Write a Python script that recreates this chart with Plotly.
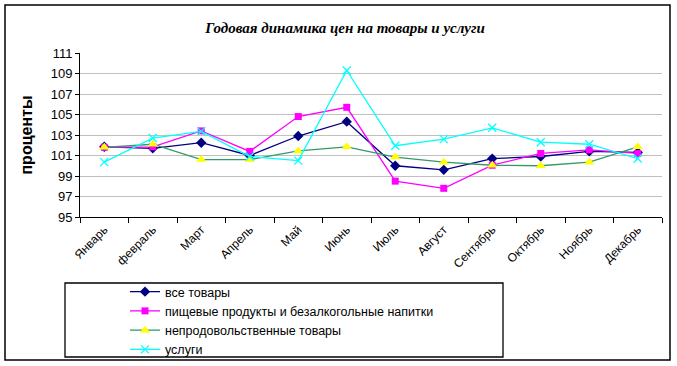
import plotly.graph_objects as go

months = ["Январь", "февраль", "Март", "Апрель", "Май", "Июнь", "Июль",
          "Август", "Сентябрь", "Октябрь", "Ноябрь", "Декабрь"]
all_goods = [101.85, 101.7, 102.25, 101.0, 102.9, 104.3, 100.0, 99.6, 100.7, 100.9, 101.4, 101.3]
food = [101.8, 101.85, 103.4, 101.4, 104.8, 105.7, 98.5, 97.8, 100.05, 101.2, 101.55, 101.2]
nonfood = [101.8, 102.1, 100.6, 100.6, 101.45, 101.85, 100.85, 100.35, 100.05, 100.0, 100.35, 101.85]
services = [100.35, 102.7, 103.35, 100.9, 100.5, 109.3, 101.95, 102.6, 103.7, 102.3, 102.1, 100.7]
y_ticks = [95, 97, 99, 101, 103, 105, 107, 109, 111]

W, H = 677, 366
L, R, T, B = 80, 662, 53, 217


def px(x):
    return (x - L) / (R - L)


def py(y):
    return (B - y) / (B - T)


fig = go.Figure()
fig.add_trace(go.Scatter(x=months, y=all_goods, name="все товары", mode="lines+markers",
                         line=dict(color="#000080", width=1.3),
                         marker=dict(symbol="diamond", size=8, color="#000080")))
fig.add_trace(go.Scatter(x=months, y=food, name="пищевые продукты и безалкогольные напитки",
                         mode="lines+markers", line=dict(color="#FF00FF", width=1.3),
                         marker=dict(symbol="square", size=7, color="#FF00FF")))
fig.add_trace(go.Scatter(x=months, y=nonfood, name="непродовольственные товары",
                         mode="lines+markers", line=dict(color="#339966", width=1.3),
                         marker=dict(symbol="triangle-up", size=9, color="#FFFF00")))
fig.add_trace(go.Scatter(x=months, y=services, name="услуги", mode="lines+markers",
                         line=dict(color="#00FFFF", width=1.3),
                         marker=dict(symbol="x-thin-open", size=8, color="#00FFFF",
                                     line=dict(color="#00FFFF", width=1.3))))

fig.update_layout(
    width=W, height=H,
    margin=dict(l=L, r=W - R, t=T, b=H - B, autoexpand=False),
    paper_bgcolor="white", plot_bgcolor="white",
    font=dict(family="Arial, Liberation Sans", color="black"),
    title=dict(text="<b><i>Годовая динамика цен на товары и услуги</i></b>",
               font=dict(family="Liberation Serif, Times New Roman", size=15, color="black"),
               x=345 / W, xanchor="center", y=1 - 28 / H, yanchor="middle"),
    showlegend=True,
    legend=dict(x=px(125), y=py(277), xanchor="left", yanchor="top",
                font=dict(family="Arial, Liberation Sans", size=12.5),
                bgcolor="rgba(0,0,0,0)", borderwidth=0, tracegroupgap=0,
                itemwidth=30),
    xaxis=dict(showline=True, linecolor="black", linewidth=1, ticks="outside",
               ticklen=5, tickcolor="black", tickson="boundaries", tickangle=-45,
               tickfont=dict(size=12), showgrid=False, zeroline=False, range=[-0.5, 11.5]),
    yaxis=dict(range=[95, 111], tickvals=y_ticks, showline=True, linecolor="black",
               linewidth=1, ticks="outside", ticklen=4, tickcolor="black",
               tickfont=dict(size=13), showgrid=True, gridcolor="#C0C0C0", gridwidth=1,
               zeroline=False,
               title=dict(text="<b>проценты</b>", font=dict(size=16), standoff=14)),
    shapes=[
        dict(type="rect", xref="paper", yref="paper", x0=px(5), x1=px(670),
             y0=py(5), y1=py(360), line=dict(color="black", width=1.5)),
        dict(type="rect", xref="paper", yref="paper", x0=px(65), x1=px(503),
             y0=py(283), y1=py(357), line=dict(color="black", width=1.3)),
    ],
)

fig.write_html("out.html", config={"displayModeBar": False},
               post_script="document.body.style.margin='0';")
